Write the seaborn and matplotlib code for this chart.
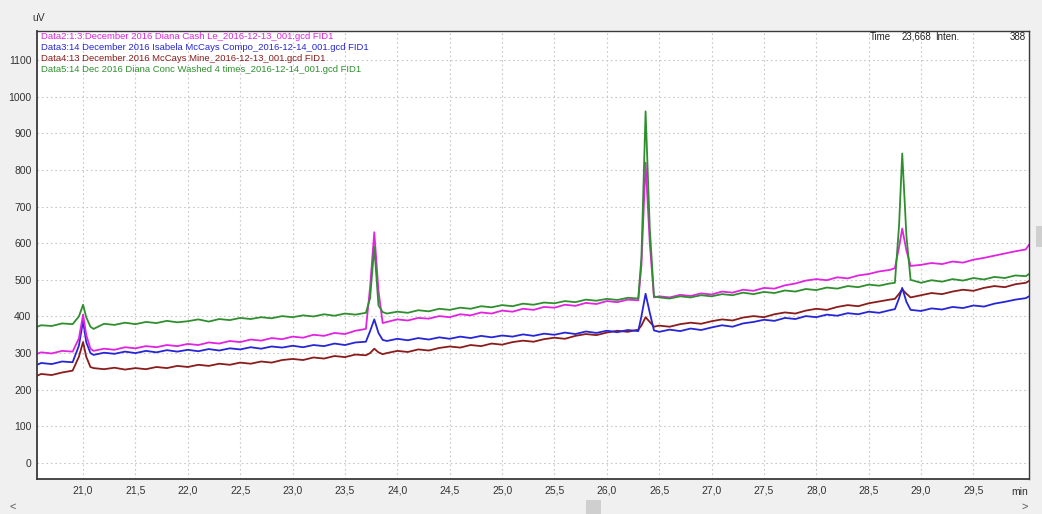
import numpy as np
import pandas as pd
import matplotlib
matplotlib.use("Agg")
import matplotlib.pyplot as plt
from matplotlib.ticker import MultipleLocator, FixedLocator, FuncFormatter
from matplotlib.patches import Rectangle
import seaborn as sns

# ---------------- data ----------------
time_min = [
    20.56, 20.6, 20.7, 20.8, 20.9, 20.96, 21.0, 21.03, 21.07, 21.1, 21.2, 21.3, 21.4, 21.5, 21.6, 21.7, 21.8, 21.9,
    22.0, 22.1, 22.2, 22.3, 22.4, 22.5, 22.6, 22.7, 22.8, 22.9,
    23.0, 23.1, 23.2, 23.3, 23.4, 23.5, 23.6, 23.7, 23.74, 23.78, 23.82, 23.86, 23.9,
    24.0, 24.1, 24.2, 24.3, 24.4, 24.5, 24.6, 24.7, 24.8, 24.9,
    25.0, 25.1, 25.2, 25.3, 25.4, 25.5, 25.6, 25.7, 25.8, 25.9,
    26.0, 26.1, 26.2, 26.3, 26.33, 26.37, 26.41, 26.45, 26.5, 26.6, 26.7, 26.8, 26.9,
    27.0, 27.1, 27.2, 27.3, 27.4, 27.5, 27.6, 27.7, 27.8, 27.9,
    28.0, 28.1, 28.2, 28.3, 28.4, 28.5, 28.6, 28.7, 28.75, 28.79, 28.82, 28.86, 28.9,
    29.0, 29.1, 29.2, 29.3, 29.4, 29.5, 29.6, 29.7, 29.8, 29.9,
    30.0, 30.03,
]

data5_green = [
    372, 376, 374, 381, 379, 400, 432, 398, 372, 366, 380, 377, 383, 379, 385, 382, 388, 384,
    387, 392, 386, 393, 390, 396, 393, 398, 395, 401,
    398, 403, 400, 406, 402, 408, 405, 410, 450, 590, 430, 412, 408,
    413, 410, 417, 414, 421, 418, 424, 421, 428, 425,
    431, 428, 435, 432, 438, 436, 442, 439, 446, 443,
    448, 445, 451, 449, 560, 960, 640, 455, 452, 449, 455, 452, 458,
    455, 461, 458, 465, 461, 467, 464, 471, 468, 475,
    472, 479, 476, 483, 480, 487, 484, 490, 492, 650, 845, 620, 500,
    492, 499, 495, 502, 498, 505, 501, 508, 505, 512,
    510, 516,
]

data2_magenta = [
    298, 302, 299, 306, 304, 340, 405, 350, 312, 306, 312, 309, 316, 313, 319, 316, 322, 319,
    325, 322, 329, 326, 333, 330, 337, 334, 341, 338,
    345, 342, 350, 347, 355, 352, 361, 366, 480, 630, 470, 382, 385,
    392, 389, 396, 394, 401, 398, 406, 403, 411, 408,
    416, 413, 421, 418, 426, 424, 432, 429, 437, 434,
    442, 439, 446, 444, 540, 820, 600, 452, 455, 452, 459, 456, 463,
    460, 468, 465, 473, 470, 478, 476, 485, 490, 498,
    502, 499, 507, 504, 512, 516, 523, 527, 532, 590, 640, 580, 538,
    541, 546, 543, 550, 547, 555, 560, 566, 572, 578,
    583, 596,
]

data3_blue = [
    268, 273, 270, 277, 275, 320, 388, 330, 300, 295, 301, 298, 304, 300, 306, 302, 308, 304,
    309, 305, 311, 307, 313, 310, 316, 312, 318, 315,
    320, 316, 322, 319, 326, 322, 329, 331, 360, 392, 355, 336, 333,
    339, 335, 341, 337, 343, 339, 345, 341, 347, 343,
    348, 345, 351, 347, 353, 350, 356, 352, 359, 355,
    361, 357, 363, 360, 400, 462, 410, 362, 358, 364, 360, 367, 363,
    370, 376, 372, 381, 385, 391, 388, 396, 393, 401,
    398, 405, 402, 409, 406, 413, 410, 417, 420, 450, 478, 440, 418,
    415, 422, 419, 426, 423, 430, 427, 435, 440, 446,
    450, 455,
]

data4_brown = [
    238, 243, 240, 247, 252, 290, 330, 290, 262, 259, 256, 260, 255, 259, 256, 262, 259, 265,
    262, 268, 265, 271, 268, 274, 271, 277, 274, 281,
    284, 281, 288, 285, 292, 289, 296, 294, 300, 312, 302, 297, 300,
    306, 303, 310, 307, 314, 318, 315, 322, 319, 326,
    323, 330, 334, 331, 338, 342, 339, 347, 352, 349,
    356, 361, 358, 364, 375, 398, 385, 372, 375, 372, 379, 383, 380,
    387, 392, 389, 397, 401, 398, 406, 411, 408, 416,
    421, 418, 426, 431, 428, 436, 441, 446, 448, 462, 474, 462, 452,
    458, 464, 461, 468, 473, 470, 478, 483, 480, 488,
    492, 497,
]

series_names = [
    "Data4:13 December 2016 McCays Mine_2016-12-13_001.gcd FID1",
    "Data3:14 December 2016 Isabela McCays Compo_2016-12-14_001.gcd FID1",
    "Data2:1:3 December 2016 Diana Cash Le_2016-12-13_001.gcd FID1",
    "Data5:14 Dec 2016 Diana Conc Washed 4 times_2016-12-14_001.gcd FID1",
]
legend_order = [2, 1, 0, 3]  # order of header lines (Data2, Data3, Data4, Data5)
series_colors = ["#8a1c1c", "#2626d6", "#e024e0", "#2f8f2f"]

x_ticks = [21.0, 21.5, 22.0, 22.5, 23.0, 23.5, 24.0, 24.5, 25.0, 25.5,
           26.0, 26.5, 27.0, 27.5, 28.0, 28.5, 29.0, 29.5]
y_ticks = [0, 100, 200, 300, 400, 500, 600, 700, 800, 900, 1000, 1100]

# ---------------- build table ----------------
values_list = [data4_brown, data3_blue, data2_magenta, data5_green]
frames = []
for name, vals in zip(series_names, values_list):
    frames.append(pd.DataFrame({"time": time_min, "uV": vals, "series": name}))
df = pd.concat(frames, ignore_index=True)

# ---------------- plotting ----------------
sns.set_style("white")
plt.rcParams["font.family"] = ["Liberation Sans Narrow", "Liberation Sans", "DejaVu Sans"]

fig = plt.figure(figsize=(10.42, 5.14), dpi=100, facecolor="#f0f0f0")
ax = fig.add_axes([0.0355, 0.068, 0.952, 0.872])
ax.set_facecolor("white")

sns.lineplot(data=df, x="time", y="uV", hue="series", hue_order=series_names,
             palette=dict(zip(series_names, series_colors)), estimator=None,
             sort=False, legend=False, linewidth=1.3, ax=ax)

ax.set_xlim(20.56, 30.03)
ax.set_ylim(-44, 1180)
ax.xaxis.set_major_locator(FixedLocator(x_ticks))
ax.xaxis.set_minor_locator(MultipleLocator(0.1))
ax.yaxis.set_major_locator(FixedLocator(y_ticks))
ax.yaxis.set_minor_locator(MultipleLocator(20))
ax.xaxis.set_major_formatter(FuncFormatter(lambda v, p: f"{v:.1f}".replace(".", ",")))
ax.yaxis.set_major_formatter(FuncFormatter(lambda v, p: f"{int(v)}"))

ax.grid(True, which="major", color="#c8c8c8", linestyle=(0, (1.5, 2.5)), linewidth=0.8)
ax.set_axisbelow(True)

ax.tick_params(axis="both", which="major", labelsize=7.5, colors="#333333",
               length=4, width=0.8, direction="inout", pad=2)
ax.tick_params(axis="both", which="minor", length=2.5, width=0.7,
               direction="inout", color="#333333")
ax.tick_params(axis="x", which="major", pad=3)

for s in ax.spines.values():
    s.set_color("#3a3a3a")
    s.set_linewidth(1.0)
ax.spines["left"].set_linewidth(1.3)
ax.spines["bottom"].set_linewidth(1.3)

ax.set_xlabel("")
ax.set_ylabel("")

# header text lines (trace titles)
for i, idx in enumerate(legend_order):
    ax.text(0.004, 0.9866 - i * 0.0246, series_names[idx], transform=ax.transAxes,
            color=series_colors[idx], fontsize=6.8, va="center", ha="left")

# cursor readout
ax.text(0.84, 0.9866, "Time", transform=ax.transAxes, fontsize=7, va="center", ha="left", color="#222222")
ax.text(0.872, 0.9866, "23,668", transform=ax.transAxes, fontsize=7, va="center", ha="left", color="#222222")
ax.text(0.905, 0.9866, "Inten.", transform=ax.transAxes, fontsize=7, va="center", ha="left", color="#222222")
ax.text(0.997, 0.9866, "388", transform=ax.transAxes, fontsize=7, va="center", ha="right", color="#222222")

# axis unit labels
fig.text(0.031, 0.955, "uV", fontsize=7.5, color="#333333", ha="left", va="bottom")
fig.text(0.979, 0.043, "min", fontsize=7.5, color="#333333", ha="center", va="center")

# scroll bar decoration
fig.text(0.012, 0.013, "<", fontsize=8, color="#555555", ha="center", va="center")
fig.text(0.983, 0.013, ">", fontsize=8, color="#555555", ha="center", va="center")
fig.patches.append(Rectangle((0.562, 0.0), 0.015, 0.028, transform=fig.transFigure,
                             facecolor="#cfcfcf", edgecolor="none"))
fig.patches.append(Rectangle((0.994, 0.52), 0.006, 0.04, transform=fig.transFigure,
                             facecolor="#cfcfcf", edgecolor="none"))

fig.savefig("out.png", dpi=100, facecolor=fig.get_facecolor())
